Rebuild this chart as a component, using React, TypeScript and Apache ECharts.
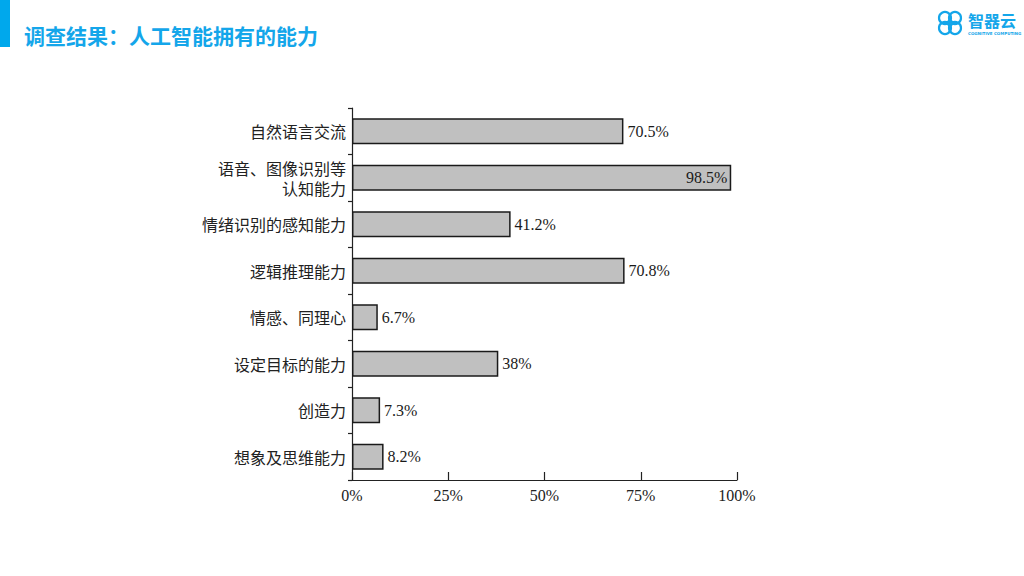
import React, { useEffect, useRef } from "react";
import * as echarts from "echarts";

const categories = [
  "自然语言交流",
  "语音、图像识别等\n认知能力",
  "情绪识别的感知能力",
  "逻辑推理能力",
  "情感、同理心",
  "设定目标的能力",
  "创造力",
  "想象及思维能力",
];
const values = [70.5, 98.5, 41.2, 70.8, 6.7, 38, 7.3, 8.2];
const labels = ["70.5%", "98.5%", "41.2%", "70.8%", "6.7%", "38%", "7.3%", "8.2%"];
const xTicks = [0, 25, 50, 75, 100];
const titleText = "调查结果：人工智能拥有的能力";

export default function App() {
  const ref = useRef<HTMLDivElement>(null);
  useEffect(() => {
    if (!ref.current) return;
    const chart = echarts.init(ref.current, undefined, { renderer: "svg" });
    const blue = "#14a6ea";
    const serif = "'Liberation Serif', 'Noto Sans CJK SC', serif";
    chart.setOption({
      animation: false,
      backgroundColor: "#ffffff",
      grid: { left: 352, top: 108, width: 385, height: 372, containLabel: false },
      xAxis: {
        type: "value",
        min: 0,
        max: 100,
        interval: 25,
        axisLine: { show: true, lineStyle: { color: "#222", width: 1.2 } },
        axisTick: { show: true, inside: true, length: 8, lineStyle: { color: "#222", width: 1.2 } },
        splitLine: { show: false },
        axisLabel: {
          formatter: (v: number) => (xTicks.includes(v) ? v + "%" : ""),
          color: "#222",
          fontFamily: serif,
          fontSize: 16,
          margin: 7,
        },
      },
      yAxis: {
        type: "category",
        data: categories,
        inverse: true,
        axisLine: { show: true, lineStyle: { color: "#222", width: 1.2 } },
        axisTick: { show: true, inside: false, length: 4, lineStyle: { color: "#222", width: 1.2 } },
        axisLabel: {
          color: "#222",
          fontFamily: "'Noto Sans CJK SC', sans-serif",
          fontWeight: "normal",
          fontSize: 16,
          lineHeight: 20,
          margin: 6,
          align: "right",
        },
      },
      series: [
        {
          type: "bar",
          data: values.map((v, i) => ({
            value: v,
            label:
              i === 1
                ? { position: "insideRight", distance: 4 }
                : { position: "right", distance: 4 },
          })),
          barWidth: 26,
          itemStyle: { color: "#c0c0c0", borderColor: "#1a1a1a", borderWidth: 1.5 },
          label: {
            show: true,
            formatter: (p: any) => labels[p.dataIndex],
            color: "#1a1a1a",
            fontFamily: serif,
            fontSize: 16,
          },
        },
      ],
      graphic: [
        { type: "rect", shape: { x: 0, y: 0, width: 10, height: 47 }, style: { fill: "#00a8ec" } },
        {
          type: "text",
          x: 24,
          y: 35,
          style: {
            text: titleText,
            fill: blue,
            font: "bold 21px 'Noto Sans CJK SC', sans-serif",
            textVerticalAlign: "middle",
          },
        },
        {
          type: "group",
          x: 950,
          y: 23,
          children: [
            { type: "circle", shape: { cx: -5, cy: -5, r: 6 }, style: { fill: "none", stroke: blue, lineWidth: 2.2 } },
            { type: "circle", shape: { cx: 5, cy: -5, r: 6 }, style: { fill: "none", stroke: blue, lineWidth: 2.2 } },
            { type: "circle", shape: { cx: -5, cy: 5, r: 6 }, style: { fill: "none", stroke: blue, lineWidth: 2.2 } },
            { type: "circle", shape: { cx: 5, cy: 5, r: 6 }, style: { fill: "none", stroke: blue, lineWidth: 2.2 } },
            { type: "circle", shape: { cx: 0, cy: 0, r: 3.5 }, style: { fill: blue } },
          ],
        },
        {
          type: "text",
          x: 968,
          y: 20,
          style: {
            text: "智器云",
            fill: blue,
            font: "bold 16px 'Noto Sans CJK SC', sans-serif",
            textVerticalAlign: "middle",
          },
        },
        {
          type: "text",
          x: 968,
          y: 33,
          style: {
            text: "COGNITIVE COMPUTING",
            fill: blue,
            font: "bold 4px 'DejaVu Sans', sans-serif",
            textVerticalAlign: "middle",
          },
        },
      ],
    });
    return () => chart.dispose();
  }, []);
  return (
    <div
      ref={ref}
      style={{ position: "fixed", left: 0, top: 0, width: 1024, height: 576 }}
    />
  );
}
